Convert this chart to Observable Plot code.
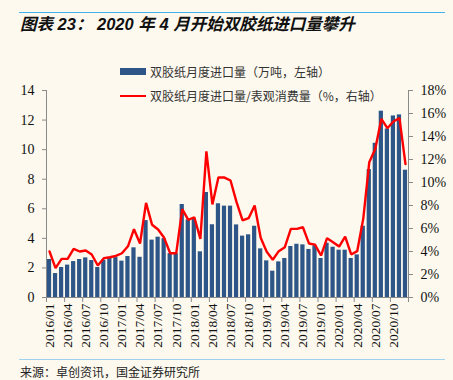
<!DOCTYPE html>
<html><head><meta charset="utf-8">
<script src="https://cdn.jsdelivr.net/npm/d3@7"></script>
<script src="https://cdn.jsdelivr.net/npm/@observablehq/plot@0.6"></script>
<style>
html,body{margin:0;padding:0;background:#fdf9ee;}
#wrap{position:relative;width:453px;height:380px;background:#fdf9ee;overflow:hidden;font-family:"Noto Sans CJK SC",sans-serif;}
.rule{position:absolute;left:19px;width:426px;}
#title{position:absolute;left:20px;top:14px;font-style:italic;font-weight:bold;font-size:16.5px;font-family:"Liberation Sans","Noto Sans CJK SC",sans-serif;color:#111;white-space:nowrap;line-height:20px;}
#chart{position:absolute;left:0;top:40px;}
.legtxt{position:absolute;left:150px;font-size:12px;color:#333;white-space:nowrap;line-height:14px;}
.sw{position:absolute;left:120px;width:26px;}
#source{position:absolute;left:20px;top:364px;font-size:12px;color:#222;white-space:nowrap;line-height:15px;}
</style></head>
<body>
<div id="wrap">
  <div class="rule" style="top:12px;height:1.2px;background:#3fb2e8;"></div>
  <div id="title">图表 23： 2020 年 4 月开始双胶纸进口量攀升</div>
  <div id="chart"></div>
  <div class="sw" style="top:68px;height:7px;background:#2d5587;"></div>
  <div class="legtxt" id="leg1" style="top:64.5px;"></div>
  <div class="sw" style="top:94.5px;height:2.5px;background:#ff0000;"></div>
  <div class="legtxt" id="leg2" style="top:89px;"></div>
  <div class="rule" style="top:358.5px;height:1.6px;background:#9fd2ee;"></div>
  <div id="source">来源：卓创资讯，国金证券研究所</div>
</div>
<script>
const months = [
 "2016/01","2016/02","2016/03","2016/04","2016/05","2016/06","2016/07","2016/08","2016/09","2016/10","2016/11","2016/12",
 "2017/01","2017/02","2017/03","2017/04","2017/05","2017/06","2017/07","2017/08","2017/09","2017/10","2017/11","2017/12",
 "2018/01","2018/02","2018/03","2018/04","2018/05","2018/06","2018/07","2018/08","2018/09","2018/10","2018/11","2018/12",
 "2019/01","2019/02","2019/03","2019/04","2019/05","2019/06","2019/07","2019/08","2019/09","2019/10","2019/11","2019/12",
 "2020/01","2020/02","2020/03","2020/04","2020/05","2020/06","2020/07","2020/08","2020/09","2020/10","2020/11","2020/12"
];
// 双胶纸月度进口量（万吨，左轴）
const imports = [
 2.57,1.62,2.03,2.19,2.43,2.57,2.68,2.50,2.03,2.52,2.64,2.70,
 2.46,2.77,3.36,2.72,5.20,3.88,4.08,3.98,2.97,2.97,6.29,5.25,
 5.30,3.09,7.10,4.92,6.34,6.18,6.18,4.91,4.15,4.24,4.82,3.29,
 2.48,1.78,2.41,2.64,3.45,3.60,3.56,3.25,3.50,2.64,3.67,3.40,
 3.20,3.20,2.64,2.88,4.82,8.65,10.43,12.60,11.40,12.28,12.35,8.61
];
// 双胶纸月度进口量/表观消费量（%，右轴）
const ratio = [
 4.00,2.55,3.36,3.36,4.23,4.00,4.09,3.74,2.78,3.42,3.50,3.62,
 3.85,4.45,5.94,4.70,8.23,6.32,5.91,5.19,3.85,3.85,7.68,6.75,
 6.98,5.10,12.70,8.09,10.45,10.43,10.17,8.29,6.70,6.90,8.00,5.19,
 3.97,3.28,4.03,4.38,5.97,5.97,6.11,4.70,4.60,3.65,5.16,4.81,
 4.43,5.30,3.74,4.03,6.84,11.77,12.93,15.54,14.72,15.30,15.60,11.60
];
const tickLabels = ["2016/01","2016/04","2016/07","2016/10","2017/01","2017/04","2017/07","2017/10",
 "2018/01","2018/04","2018/07","2018/10","2019/01","2019/04","2019/07","2019/10",
 "2020/01","2020/04","2020/07","2020/10"];
const leftTicks = [0,2,4,6,8,10,12,14];
const rightTicks = [0,2,4,6,8,10,12,14,16,18];
const seriesNames = ["双胶纸月度进口量（万吨，左轴）","双胶纸月度进口量/表观消费量（%，右轴）"];

document.getElementById("leg1").textContent = seriesNames[0];
document.getElementById("leg2").textContent = seriesNames[1];

const leftMax = leftTicks[leftTicks.length-1];
const rightMax = rightTicks[rightTicks.length-1];
const k = leftMax / rightMax;
const rows = months.map((m, i) => ({i, m, v: imports[i], p: ratio[i]}));
const labelIdx = tickLabels.map(l => months.indexOf(l));
const grey = "#8a8a8a";

const chart = Plot.plot({
  width: 453, height: 315,
  marginTop: 50, marginBottom: 58, marginLeft: 46, marginRight: 45,
  x: {type: "linear", domain: [0, months.length]},
  y: {domain: [0, leftMax]},
  style: {background: "transparent", fontFamily: "'Liberation Serif', serif", fontSize: "14px", color: "#111"},
  marks: [
    Plot.rectY(rows, {x1: d => d.i + 0.15, x2: d => d.i + 0.85, y: "v", fill: "#2d5587"}),
    Plot.lineY(rows, {x: d => d.i + 0.5, y: d => d.p * k, stroke: "#ff0000", strokeWidth: 2.4, strokeLinejoin: "miter"}),
    Plot.ruleX([0, months.length], {stroke: grey}),
    Plot.ruleY([0], {stroke: grey}),
    Plot.axisY({anchor: "left", ticks: leftTicks, tickSize: 4, tickPadding: 8, fontSize: 14, label: null, stroke: grey, fill: "#111", tickFormat: d => String(d)}),
    Plot.axisY({anchor: "right", ticks: rightTicks.map(t => t * k), tickSize: 4, tickPadding: 8, fontSize: 14, label: null, stroke: grey, fill: "#111", tickFormat: d => Math.round(d / k) + "%"}),
    Plot.axisX({ticks: [...labelIdx, months.length], tickSize: 5, tickFormat: () => "", label: null, stroke: grey}),
    Plot.axisX({ticks: labelIdx.map(i => i + 0.5), tickSize: 0, tickPadding: 6, tickRotate: -90, fontSize: 13.5, label: null, fill: "#111", tickFormat: d => months[d - 0.5]})
  ]
});
document.getElementById("chart").appendChild(chart);
</script>
</body></html>
